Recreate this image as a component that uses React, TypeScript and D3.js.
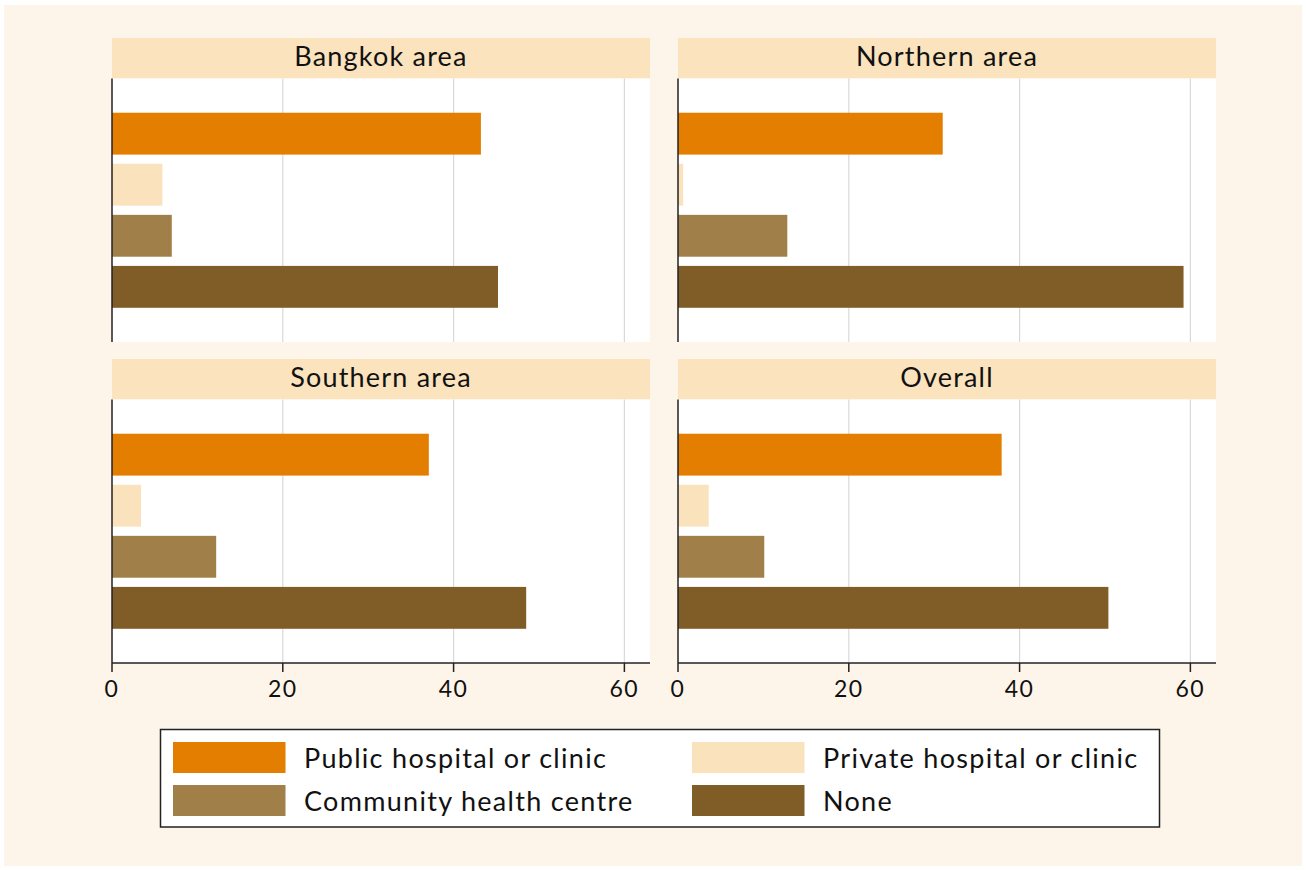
import React from "react";
import * as d3 from "d3";

const panels = ["Bangkok area", "Northern area", "Southern area", "Overall"];
const categories = [
  "Public hospital or clinic",
  "Private hospital or clinic",
  "Community health centre",
  "None",
];
const bangkokValues = [43.2, 5.9, 7.0, 45.2];
const northernValues = [31.0, 0.6, 12.8, 59.2];
const southernValues = [37.1, 3.4, 12.2, 48.5];
const overallValues = [37.9, 3.6, 10.1, 50.4];
const panelValues = [bangkokValues, northernValues, southernValues, overallValues];
const xTicks = [0, 20, 40, 60];
const colors = ["#E37E00", "#FAE3BC", "#A07F48", "#805C27"];

const FONT = "Lato, 'Open Sans', sans-serif";

export default function App() {
  const W = 1306;
  const H = 870;
  const colX = [112, 678];
  const rowY = [38, 359];
  const pw = 538;
  const headerH = 40.5;
  const plotH = 263.5;

  const x = d3.scaleLinear().domain([0, 63]).range([0, pw]);
  const y = d3
    .scaleBand<string>()
    .domain(categories)
    .range([0, plotH])
    .paddingInner(0.18)
    .paddingOuter(0.67);

  return (
    <svg
      width={W}
      height={H}
      style={{ position: "absolute", left: 0, top: 0 }}
      fontFamily={FONT}
    >
      <rect x={0} y={0} width={W} height={H} fill="#ffffff" />
      <rect x={4} y={5} width={1298} height={861} fill="#FDF5E9" />
      {panels.map((p, i) => {
        const cx = colX[i % 2];
        const cy = rowY[Math.floor(i / 2)];
        const py = cy + headerH;
        const bottom = i >= 2;
        return (
          <g key={p}>
            <rect x={cx} y={cy} width={pw} height={headerH} fill="#FAE3BD" />
            <text
              x={cx + pw / 2}
              y={cy + 27.7}
              textAnchor="middle"
              fontSize={27}
              letterSpacing={1.2}
              fill="#111"
            >
              {p}
            </text>
            <rect x={cx} y={py} width={pw} height={plotH} fill="#ffffff" />
            {xTicks.slice(1).map((t) => (
              <line
                key={t}
                x1={cx + x(t)}
                x2={cx + x(t)}
                y1={py}
                y2={py + plotH}
                stroke="#d9d9d9"
                strokeWidth={1.2}
              />
            ))}
            {categories.map((c, k) => (
              <rect
                key={c}
                x={cx + x(0)}
                y={py + (y(c) as number)}
                width={x(panelValues[i][k]) - x(0)}
                height={y.bandwidth()}
                fill={colors[k]}
              />
            ))}
            <line
              x1={cx}
              x2={cx}
              y1={py}
              y2={py + plotH}
              stroke="#222"
              strokeWidth={1.5}
            />
            {bottom && (
              <g>
                <line
                  x1={cx}
                  x2={cx + pw}
                  y1={py + plotH}
                  y2={py + plotH}
                  stroke="#222"
                  strokeWidth={1.5}
                />
                {xTicks.map((t) => (
                  <g key={t}>
                    <line
                      x1={cx + x(t)}
                      x2={cx + x(t)}
                      y1={py + plotH}
                      y2={py + plotH + 9}
                      stroke="#222"
                      strokeWidth={1.5}
                    />
                    <text
                      x={cx + x(t)}
                      y={py + plotH + 33.5}
                      textAnchor="middle"
                      fontSize={23}
                      letterSpacing={1.5}
                      fill="#111"
                    >
                      {t}
                    </text>
                  </g>
                ))}
              </g>
            )}
          </g>
        );
      })}
      <rect
        x={160.5}
        y={729.5}
        width={999}
        height={97.5}
        fill="#ffffff"
        stroke="#222"
        strokeWidth={1.5}
      />
      {categories.map((c, k) => {
        const lx = k % 2 === 0 ? 173 : 692;
        const ly = k < 2 ? 742 : 785;
        return (
          <g key={c}>
            <rect x={lx} y={ly} width={112.5} height={31} fill={colors[k]} />
            <text
              x={lx + 131}
              y={ly + 25.7}
              fontSize={27}
              letterSpacing={1.3}
              fill="#111"
            >
              {c}
            </text>
          </g>
        );
      })}
    </svg>
  );
}
